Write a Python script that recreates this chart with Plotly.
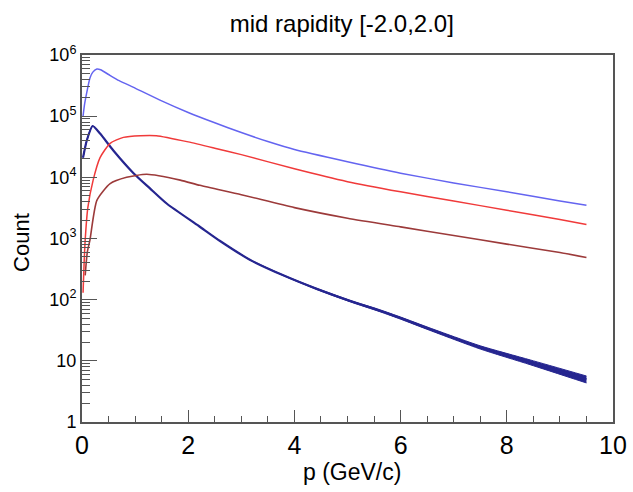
import plotly.graph_objects as go

# ---- data ----
p_all = [0.02, 0.05, 0.1, 0.15, 0.2, 0.28, 0.35, 0.5, 0.7, 1.0, 1.5, 2.0, 2.5,
         3.0, 3.5, 4.0, 5.0, 6.0, 7.0, 8.0, 9.0, 9.5]
n_all = [1.0e5, 1.6e5, 2.7e5, 4.2e5, 5.2e5, 5.9e5, 5.75e5, 4.8e5, 3.8e5, 2.88e5,
         1.78e5, 1.15e5, 7.8e4, 5.4e4, 3.85e4, 2.85e4, 1.8e4, 1.17e4, 8.1e3,
         5.8e3, 4.1e3, 3.5e3]

p_red = [0.02, 0.04, 0.06, 0.11, 0.21, 0.34, 0.53, 0.78, 1.1, 1.4, 2.0, 2.5,
         3.0, 4.0, 5.0, 6.0, 7.0, 8.0, 9.0, 9.5]
n_red = [1.3e2, 4.0e2, 9.5e2, 3.2e3, 9.0e3, 2.1e4, 3.6e4, 4.5e4, 4.8e4, 4.8e4,
         3.8e4, 3.0e4, 2.35e4, 1.38e4, 8.5e3, 5.8e3, 4.1e3, 2.9e3, 2.05e3, 1.7e3]

p_dred = [0.06, 0.1, 0.15, 0.28, 0.53, 0.84, 1.22, 1.85, 2.22, 3.0, 4.0, 5.0,
          6.0, 7.0, 8.0, 9.0, 9.5]
n_dred = [2.5e2, 6.0e2, 9.5e2, 4.2e3, 7.9e3, 1.0e4, 1.12e4, 9.0e3, 7.4e3,
          5.2e3, 3.2e3, 2.15e3, 1.55e3, 1.12e3, 8.1e2, 5.9e2, 4.9e2]

p_navy = [0.02, 0.09, 0.2, 0.34, 0.59, 0.97, 1.28, 1.6, 2.2, 2.6, 3.16, 3.79,
          4.42, 5.05, 5.61, 6.0, 6.55, 7.5, 8.44, 9.5]
n_navy = [2.1e4, 4.0e4, 6.9e4, 5.2e4, 2.75e4, 1.17e4, 6.6e3, 3.7e3, 1.6e3,
          9.1e2, 4.5e2, 2.5e2, 1.5e2, 95, 66, 50, 33, 16.6, 9.5, 5.0]
e_navy = [0, 0, 0, 0, 0, 0, 0, 0, 0, 4, 3.5, 3, 3, 2.8, 2.4, 2.0, 1.5, 1.0, 0.85, 0.65]

y_tickvals = [1, 10, 100, 1000, 1e4, 1e5, 1e6]
y_ticktext = ["1", "10", "10<sup>2</sup>", "10<sup>3</sup>", "10<sup>4</sup>",
              "10<sup>5</sup>", "10<sup>6</sup>"]
x_tickvals = [0, 2, 4, 6, 8, 10]

NAVY = "#262690"
SM = 0.6
fig = go.Figure()

upper = [v + e for v, e in zip(n_navy, e_navy)]
lower = [v - e for v, e in zip(n_navy, e_navy)]
fig.add_trace(go.Scatter(x=p_navy, y=upper, mode="lines",
                         line=dict(color=NAVY, width=1, shape="spline", smoothing=SM),
                         showlegend=False))
fig.add_trace(go.Scatter(x=p_navy, y=lower, mode="lines", fill="tonexty",
                         fillcolor=NAVY,
                         line=dict(color=NAVY, width=1, shape="spline", smoothing=SM),
                         showlegend=False))
fig.add_trace(go.Scatter(x=p_navy, y=n_navy, mode="lines",
                         line=dict(color=NAVY, width=2.2, shape="spline", smoothing=SM),
                         showlegend=False))
fig.add_trace(go.Scatter(x=p_dred, y=n_dred, mode="lines",
                         line=dict(color="#9c3a3a", width=1.6, shape="spline", smoothing=SM),
                         showlegend=False))
fig.add_trace(go.Scatter(x=p_red, y=n_red, mode="lines",
                         line=dict(color="#f03a3a", width=1.5, shape="spline", smoothing=SM),
                         showlegend=False))
fig.add_trace(go.Scatter(x=p_all, y=n_all, mode="lines",
                         line=dict(color="#6464f0", width=1.5, shape="spline", smoothing=SM),
                         showlegend=False))

AX = "#555555"
FONT = "Liberation Sans, Arial, sans-serif"
fig.update_layout(
    width=633, height=492,
    margin=dict(l=82, r=20, t=55, b=70, autoexpand=False),
    paper_bgcolor="white", plot_bgcolor="white",
    font=dict(family=FONT, color="black"),
    title=dict(text="mid rapidity [-2.0,2.0]", x=0.540, xanchor="center",
               y=0.953, yanchor="middle", font=dict(size=24)),
    xaxis=dict(range=[0, 10], tickvals=x_tickvals, ticks="inside", ticklen=12,
               tickwidth=1.2, tickcolor=AX, showline=True, linecolor=AX,
               linewidth=2, mirror=True, showgrid=False, zeroline=False,
               automargin=False, tickfont=dict(size=25),
               minor=dict(dtick=0.5, ticks="inside", ticklen=6, tickcolor=AX,
                          showgrid=False)),
    yaxis=dict(type="log", range=[0, 6], tickvals=y_tickvals,
               ticktext=y_ticktext, ticks="inside", ticklen=15, tickwidth=1.2,
               tickcolor=AX, showline=True, linecolor=AX, linewidth=2,
               mirror=True, showgrid=False, zeroline=False, automargin=False,
               tickfont=dict(size=18),
               minor=dict(dtick="D1", ticks="inside", ticklen=8, tickcolor=AX,
                          showgrid=False)),
    annotations=[
        dict(text="p (GeV/c)", xref="paper", yref="paper", x=0.508, y=0,
             xanchor="center", yanchor="middle", yshift=-50, showarrow=False,
             font=dict(size=23, family=FONT)),
        dict(text="Count", xref="paper", yref="paper", x=0, y=0.488,
             xanchor="center", yanchor="middle", xshift=-60, textangle=-90,
             showarrow=False, font=dict(size=22, family=FONT)),
    ],
)

fig.write_html("out.html", config={"displayModeBar": False},
               post_script="document.body.style.margin='0';")
